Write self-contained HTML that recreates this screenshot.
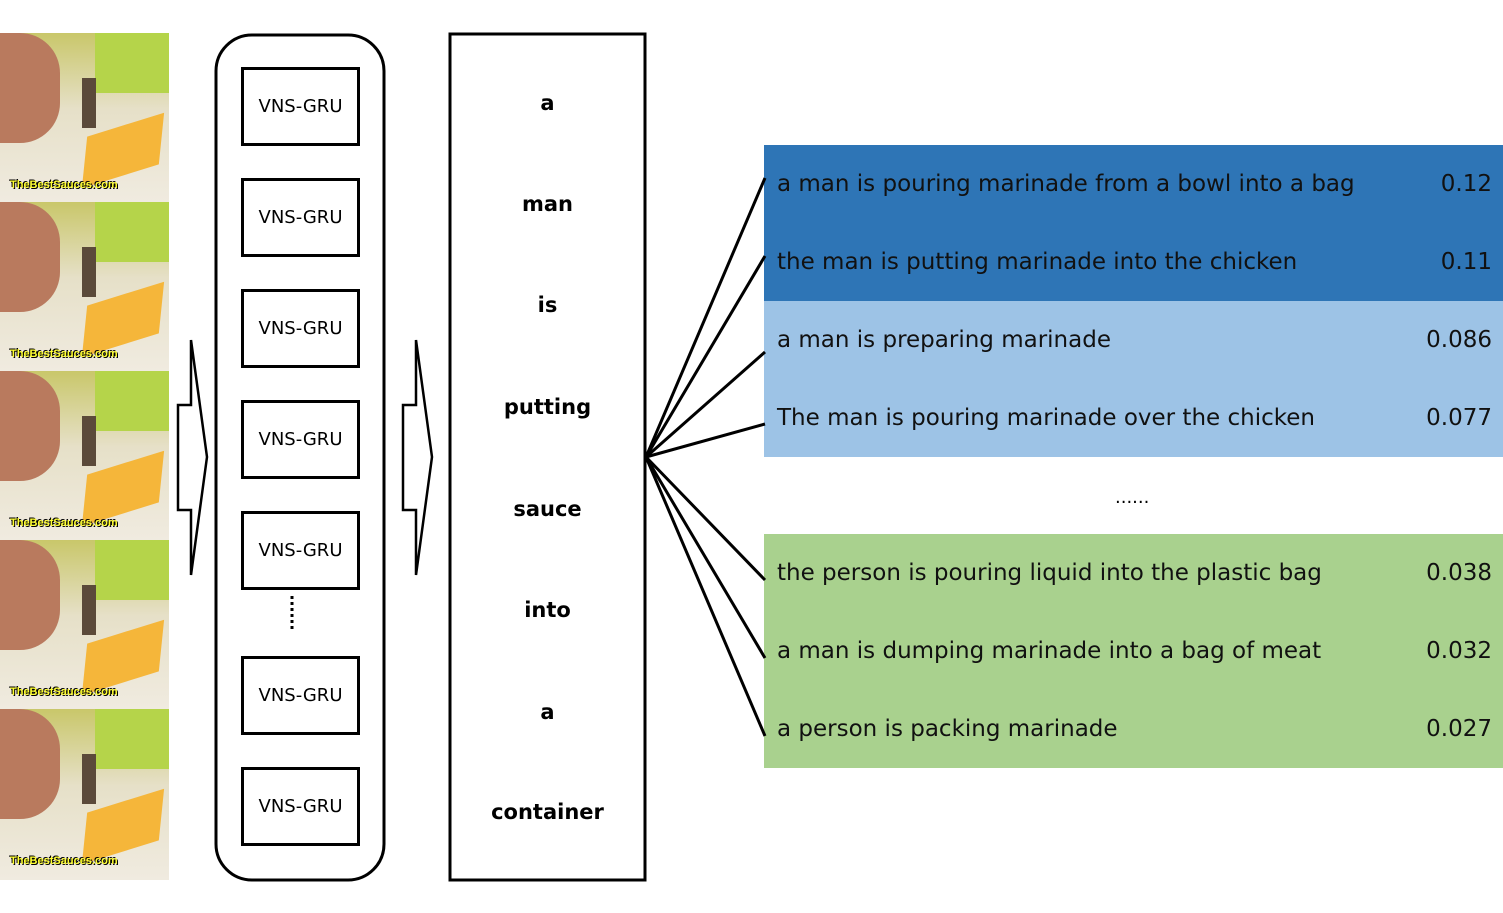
<!DOCTYPE html>
<html><head><style>
body{margin:0;width:1503px;height:913px;background:#fff;position:relative;overflow:hidden;font-family:"DejaVu Sans","Liberation Sans",sans-serif}
.fr{position:absolute;left:0;width:169px;height:169px;overflow:hidden;background:linear-gradient(180deg,#c9c76a 0%,#e6e0c8 45%,#f0ebe0 100%)}
.fr .g{position:absolute;left:95px;top:0;width:74px;height:60px;background:#b5d44a}
.fr .h{position:absolute;left:0;top:0;width:60px;height:110px;background:#b97a5e;border-radius:0 40px 40px 0}
.fr .b{position:absolute;left:88px;top:90px;width:70px;height:55px;background:#f5b63a;transform:skewX(-25deg) rotate(-20deg)}
.fr .bt{position:absolute;left:82px;top:45px;width:14px;height:50px;background:#5b4a3a}
.fr .t{position:absolute;left:10px;top:146px;font:bold 11px "Liberation Sans";color:#ff3;text-shadow:1px 1px 0 #000,-1px -1px 0 #000}
.v{position:absolute;left:241px;width:113px;height:73px;border:3px solid #000;font-size:18px;display:flex;align-items:center;justify-content:center}
.w{position:absolute;left:450px;width:195px;text-align:center;font-weight:bold;font-size:21px;line-height:22px}
.r{position:absolute;left:777px;width:715px;font-size:23px;line-height:24px;display:flex;justify-content:space-between;color:#111}
</style></head><body>
<div class="fr" style="top:33px"><div class="g"></div><div class="h"></div><div class="bt"></div><div class="b"></div><div class="t">TheBestSauces.com</div></div>
<div class="fr" style="top:202px"><div class="g"></div><div class="h"></div><div class="bt"></div><div class="b"></div><div class="t">TheBestSauces.com</div></div>
<div class="fr" style="top:371px"><div class="g"></div><div class="h"></div><div class="bt"></div><div class="b"></div><div class="t">TheBestSauces.com</div></div>
<div class="fr" style="top:540px"><div class="g"></div><div class="h"></div><div class="bt"></div><div class="b"></div><div class="t">TheBestSauces.com</div></div>
<div class="fr" style="top:709px;height:171px"><div class="g"></div><div class="h"></div><div class="bt"></div><div class="b"></div><div class="t">TheBestSauces.com</div></div>
<svg width="1503" height="913" style="position:absolute;left:0;top:0">
<rect x="216" y="35" width="168" height="845" rx="36" fill="none" stroke="#000" stroke-width="3"/>
<rect x="450" y="34" width="195" height="846" fill="none" stroke="#000" stroke-width="3"/>
<path d="M178 405 L191 405 L191 340 L207 457 L191 575 L191 510 L178 510 Z" fill="#fff" stroke="#000" stroke-width="2.5"/>
<path d="M403 405 L416 405 L416 340 L432 457 L416 575 L416 510 L403 510 Z" fill="#fff" stroke="#000" stroke-width="2.5"/>
<line x1="292" y1="596" x2="292" y2="632" stroke="#000" stroke-width="3" stroke-dasharray="3 3"/>
<rect x="764" y="145" width="739" height="156" fill="#2E75B6"/>
<rect x="764" y="301" width="739" height="156" fill="#9DC3E6"/>
<rect x="764" y="534" width="739" height="234" fill="#A9D18E"/>
<g stroke="#000" stroke-width="3" fill="none">
<line x1="646" y1="457" x2="765" y2="178"/>
<line x1="646" y1="457" x2="765" y2="256"/>
<line x1="646" y1="457" x2="765" y2="352"/>
<line x1="646" y1="457" x2="765" y2="424"/>
<line x1="646" y1="457" x2="765" y2="580"/>
<line x1="646" y1="457" x2="765" y2="658"/>
<line x1="646" y1="457" x2="765" y2="736"/>
</g>
</svg>
<div class="v" style="top:67px">VNS-GRU</div>
<div class="v" style="top:178px">VNS-GRU</div>
<div class="v" style="top:289px">VNS-GRU</div>
<div class="v" style="top:400px">VNS-GRU</div>
<div class="v" style="top:511px">VNS-GRU</div>
<div class="v" style="top:656px">VNS-GRU</div>
<div class="v" style="top:767px">VNS-GRU</div>
<div class="w" style="top:92px">a</div>
<div class="w" style="top:193px">man</div>
<div class="w" style="top:294px">is</div>
<div class="w" style="top:396px">putting</div>
<div class="w" style="top:498px">sauce</div>
<div class="w" style="top:599px">into</div>
<div class="w" style="top:701px">a</div>
<div class="w" style="top:801px">container</div>
<div class="r" style="top:172px"><span>a man is pouring marinade from a bowl into a bag</span><span>0.12</span></div>
<div class="r" style="top:250px"><span>the man is putting marinade into the chicken</span><span>0.11</span></div>
<div class="r" style="top:328px"><span>a man is preparing marinade</span><span>0.086</span></div>
<div class="r" style="top:406px"><span>The man is pouring marinade over the chicken</span><span>0.077</span></div>
<div style="position:absolute;left:1115px;top:487px;font-size:18px">......</div>
<div class="r" style="top:561px"><span>the person is pouring liquid into the plastic bag</span><span>0.038</span></div>
<div class="r" style="top:639px"><span>a man is dumping marinade into a bag of meat</span><span>0.032</span></div>
<div class="r" style="top:717px"><span>a person is packing marinade</span><span>0.027</span></div>
</body></html>
